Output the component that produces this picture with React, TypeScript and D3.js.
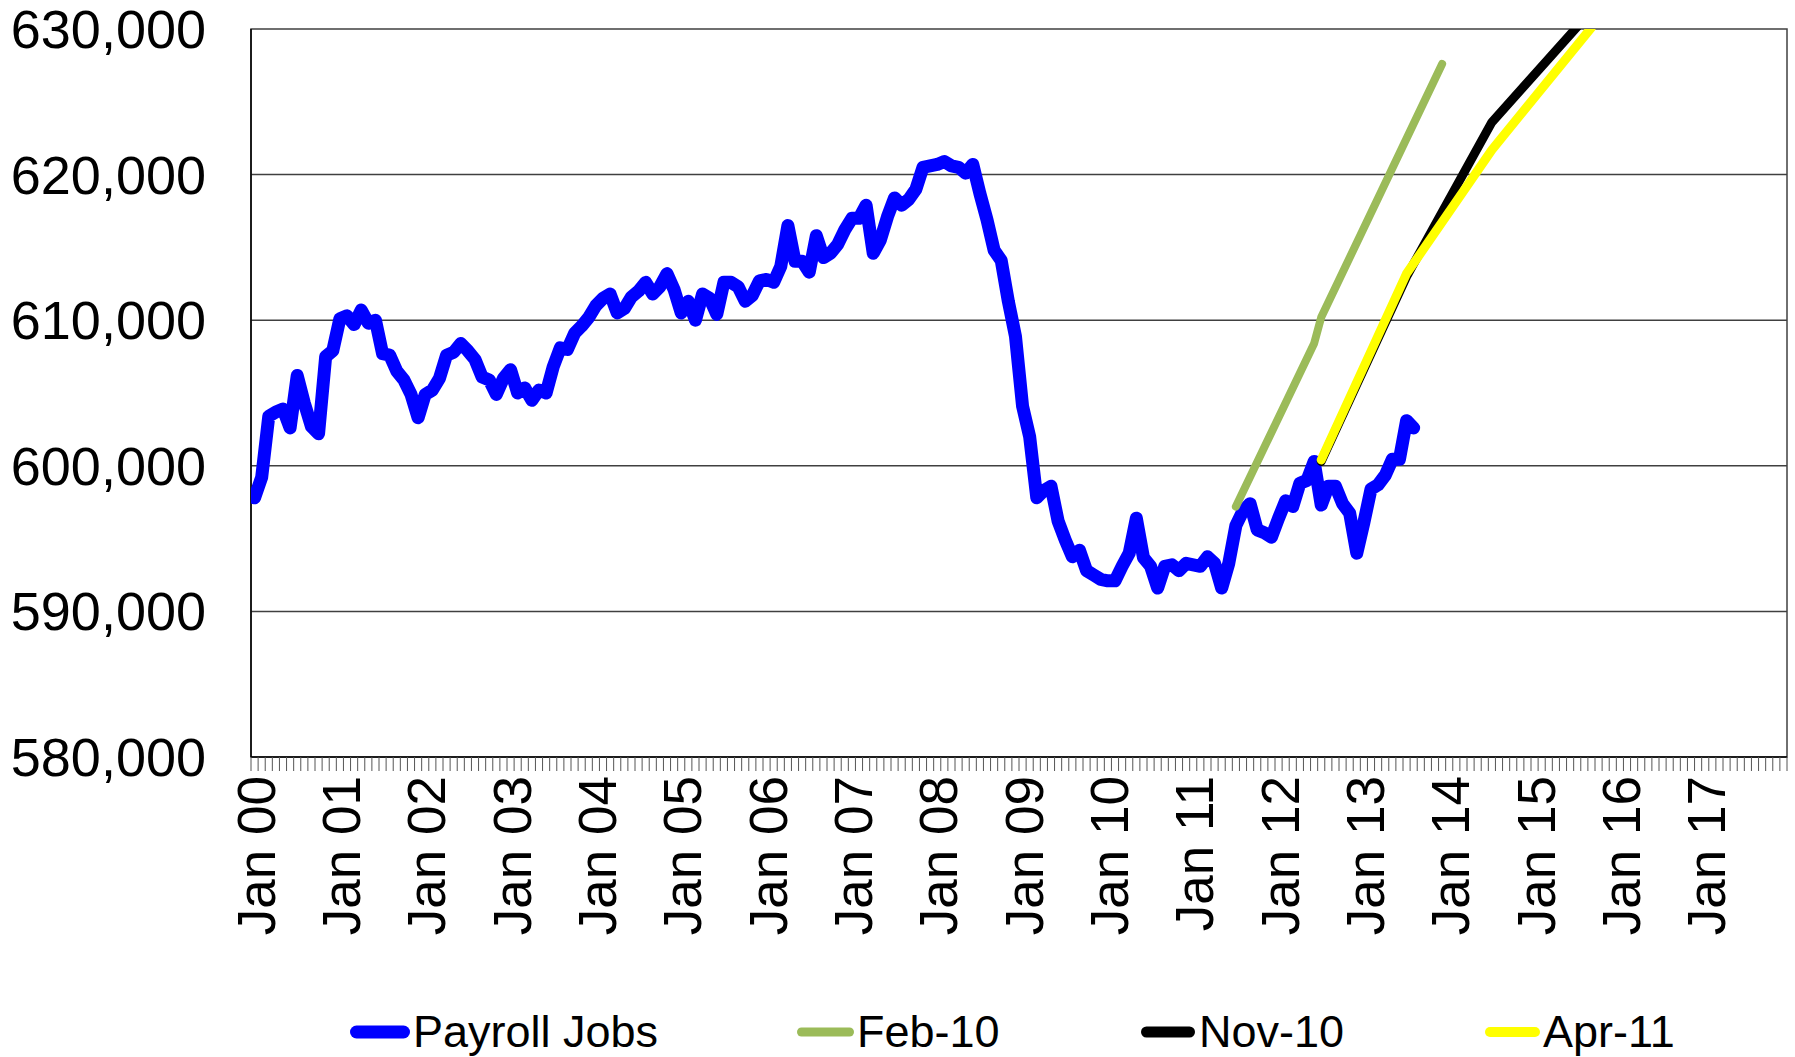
import React from "react";
import * as d3 from "d3";

// ---- Data (monthly, starting Jan 2000) ----
const startYear = 2000;
const payrollJobs: number[] = [
  597800, 599200, 603400, 603700, 603900, 602600, 606200, 604300, 602700, 602200, 607500, 607900,
  610100, 610300, 609700, 610700, 609800, 610000, 607700, 607600, 606500, 605900, 604900, 603300,
  604900, 605200, 606000, 607600, 607800, 608400, 607900, 607300, 606100, 605900, 604900, 606000,
  606600, 605000, 605350, 604500, 605200, 605000, 606800, 608100, 608000, 609100, 609600, 610200,
  611000, 611500, 611800, 610500, 610800, 611600, 612000, 612600, 611800, 612300, 613200, 612100,
  610500, 611300, 610000, 611800, 611500, 610400, 612600, 612600, 612300, 611300, 611700, 612700,
  612800, 612600, 613700, 616500, 614050, 614050, 613300, 615800, 614300, 614600, 615200, 616200,
  617000, 617000, 617900, 614600, 615500, 617100, 618400, 617900, 618300, 619000, 620500, 620600,
  620700, 620900, 620600, 620500, 620100, 620700, 618700, 616900, 614800, 614100, 611300, 608900,
  604100, 602000, 597800, 598300, 598600, 596200, 594900, 593750, 594200, 592800, 592500, 592200,
  592100, 592100, 593100, 594000, 596400, 593700, 593100, 591600, 593100, 593200, 592800, 593300,
  593200, 593100, 593750, 593300, 591600, 593300, 595900, 596900, 597400, 595600, 595400, 595100,
  596400, 597600, 597200, 598800, 599000, 600300, 597300, 598600, 598600, 597400, 596750, 594000,
  596100, 598400, 598700, 599350, 600450, 600450, 603100, 602600,
];

// projection series (vertices)
const feb10Dates = ["2011-07", "2012-06", "2012-07", "2013-12"];
const feb10Values = [597200, 608400, 610200, 627600];

const nov10Dates = ["2012-07", "2013-07", "2014-07", "2015-07"];
const nov10Values = [600300, 613000, 623600, 630150];

const apr11Dates = ["2012-07", "2013-07", "2014-07", "2015-09"];
const apr11Values = [600400, 613200, 621700, 630100];

const yTicks = [580000, 590000, 600000, 610000, 620000, 630000];
const xLabelYears = d3.range(0, 18);
const nMonths = 216;

const seriesNames = ["Payroll Jobs", "Feb-10", "Nov-10", "Apr-11"];
const seriesColors = ["#0000FF", "#9BBB59", "#000000", "#FFFF00"];

const monthIndex = (s: string) => {
  const [y, m] = s.split("-").map(Number);
  return (y - startYear) * 12 + (m - 1);
};

export default function App() {
  const W = 1795, H = 1057;
  const L = 251, R = 1787, T = 29, B = 757;
  const x = d3.scaleBand<number>().domain(d3.range(nMonths)).range([L, R]).paddingInner(0).paddingOuter(0);
  const bw = x.bandwidth();
  const cx = (i: number) => (x(i) as number) + bw / 2;
  const y = d3.scaleLinear().domain([580000, 630000]).range([B, T]);

  const line = d3.line<[number, number]>().x(d => cx(d[0])).y(d => y(d[1]));

  const blue = line(payrollJobs.map((v, i) => [i, v] as [number, number]))!;
  const mk = (dates: string[], vals: number[]) =>
    line(dates.map((d, k) => [monthIndex(d), vals[k]] as [number, number]))!;
  const green = mk(feb10Dates, feb10Values);
  const black = mk(nov10Dates, nov10Values);
  const yellow = mk(apr11Dates, apr11Values);

  const fmt = d3.format(",");
  const font = "'Liberation Sans', Arial, sans-serif";

  const legendItems = [
    { name: seriesNames[0], color: seriesColors[0], x1: 350, x2: 410, tx: 413, w: 13 },
    { name: seriesNames[1], color: seriesColors[1], x1: 797, x2: 854, tx: 857, w: 9 },
    { name: seriesNames[2], color: seriesColors[2], x1: 1141, x2: 1195, tx: 1199, w: 11 },
    { name: seriesNames[3], color: seriesColors[3], x1: 1485, x2: 1540, tx: 1543, w: 10 },
  ];

  return (
    <svg width={W} height={H} style={{ position: "absolute", left: 0, top: 0, background: "#fff" }}>
      <defs>
        <clipPath id="plotclip">
          <rect x={L} y={T} width={R - L} height={B - T} />
        </clipPath>
      </defs>
      <rect x={0} y={0} width={W} height={H} fill="#fff" />
      {/* gridlines */}
      {yTicks.slice(1, -1).map(t => (
        <line key={t} x1={L} x2={R} y1={y(t)} y2={y(t)} stroke="#404040" strokeWidth={1.5} />
      ))}
      {/* plot border */}
      <rect x={L} y={T} width={R - L} height={B - T} fill="none" stroke="#404040" strokeWidth={1.5} />
      {/* axes */}
      <line x1={L} x2={L} y1={T} y2={B} stroke="#000" strokeWidth={1.5} />
      <line x1={L} x2={R} y1={B} y2={B} stroke="#000" strokeWidth={1.5} />
      {/* x ticks */}
      {d3.range(nMonths + 1).map(i => (
        <line key={i} x1={L + i * bw} x2={L + i * bw} y1={B} y2={B + 14} stroke="#555" strokeWidth={1} />
      ))}
      {/* y labels */}
      {yTicks.map(t => (
        <text key={t} x={206} y={y(t) + 19} textAnchor="end" fontFamily={font} fontSize={54} fill="#000">
          {fmt(t)}
        </text>
      ))}
      {/* x labels */}
      {xLabelYears.map(yr => {
        const i = yr * 12;
        return (
          <text
            key={yr}
            transform={`translate(${cx(i) + 20},${776}) rotate(-90)`}
            textAnchor="end"
            fontFamily={font}
            fontSize={53}
            fill="#000"
          >
            {`Jan ${String(yr).padStart(2, "0")}`}
          </text>
        );
      })}
      {/* series */}
      <g clipPath="url(#plotclip)" fill="none" strokeLinejoin="round" strokeLinecap="round">
        <path d={blue} stroke={seriesColors[0]} strokeWidth={13} />
        <path d={green} stroke={seriesColors[1]} strokeWidth={8} />
        <path d={black} stroke={seriesColors[2]} strokeWidth={9} />
        <path d={yellow} stroke={seriesColors[3]} strokeWidth={9} />
      </g>
      {/* legend */}
      {legendItems.map(it => (
        <g key={it.name}>
          <line
            x1={it.x1 + it.w / 2}
            x2={it.x2 - it.w / 2}
            y1={1032}
            y2={1032}
            stroke={it.color}
            strokeWidth={it.w}
            strokeLinecap="round"
          />
          <text x={it.tx} y={1047} fontFamily={font} fontSize={45} fill="#000">
            {it.name}
          </text>
        </g>
      ))}
    </svg>
  );
}
